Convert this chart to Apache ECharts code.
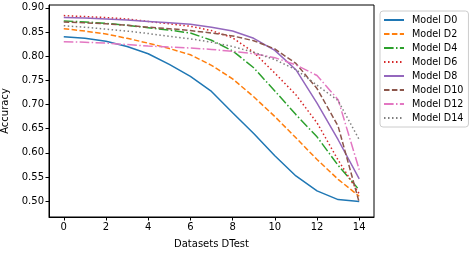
<!DOCTYPE html>
<html><head><meta charset="utf-8">
<script src="https://cdn.jsdelivr.net/npm/echarts@6/dist/echarts.min.js"></script>
<style>html,body{margin:0;padding:0;background:#fff}#c{width:474px;height:254px}</style>
</head><body><div id="c"></div>
<script>
const xValues = [0,1,2,3,4,5,6,7,8,9,10,11,12,13,14];
const xTicks = [0,2,4,6,8,10,12,14];
const yTicks = [0.50,0.55,0.60,0.65,0.70,0.75,0.80,0.85,0.90];
const seriesNames = ["Model D0","Model D2","Model D4","Model D6","Model D8","Model D10","Model D12","Model D14"];
const modelD0  = [0.840,0.837,0.831,0.820,0.805,0.783,0.758,0.727,0.683,0.640,0.594,0.552,0.521,0.503,0.499];
const modelD2  = [0.857,0.852,0.846,0.837,0.827,0.816,0.803,0.781,0.753,0.716,0.675,0.631,0.586,0.545,0.510];
const modelD4  = [0.873,0.871,0.868,0.864,0.859,0.854,0.848,0.833,0.811,0.776,0.728,0.679,0.633,0.574,0.523];
const modelD6  = [0.884,0.882,0.880,0.877,0.872,0.867,0.862,0.853,0.838,0.808,0.765,0.720,0.662,0.585,0.515];
const modelD8  = [0.880,0.879,0.877,0.875,0.872,0.869,0.866,0.860,0.852,0.837,0.812,0.772,0.703,0.627,0.546];
const modelD10 = [0.871,0.869,0.867,0.864,0.860,0.857,0.853,0.848,0.842,0.832,0.815,0.785,0.733,0.655,0.497];
const modelD12 = [0.830,0.829,0.827,0.824,0.821,0.819,0.817,0.814,0.810,0.805,0.797,0.782,0.760,0.710,0.565];
const modelD14 = [0.863,0.860,0.856,0.852,0.847,0.841,0.836,0.829,0.820,0.808,0.793,0.772,0.740,0.708,0.627];
const allSeries = [modelD0,modelD2,modelD4,modelD6,modelD8,modelD10,modelD12,modelD14];
const colors = ['#1f77b4','#ff7f0e','#2ca02c','#d62728','#9467bd','#8c564b','#e377c2','#7f7f7f'];
const dashes = ['solid',[5.5,2.4],[9.6,2.4,1.5,2.4],[1.5,2.5],'solid',[5.5,2.4],[9.6,2.4,1.5,2.4],[1.5,2.5]];
const FONT = 'DejaVu Sans';
const chart = echarts.init(document.getElementById('c'), null, {renderer:'canvas'});
chart.setOption({
  animation:false,
  textStyle:{fontFamily:FONT},
  grid:{left:49,right:100,top:5,bottom:37,containLabel:false,outerBoundsMode:'none',show:true,borderColor:'#000',borderWidth:1,backgroundColor:'transparent'},
  legend:{
    orient:'vertical', left:380, top:11,
    itemWidth:20, itemHeight:10, itemGap:4,
    padding:[4,5,4,3],
    borderColor:'#cccccc', borderWidth:1, borderRadius:3,
    itemStyle:{opacity:0},
    textStyle:{fontFamily:FONT,fontSize:9.6,color:'#000',padding:[0,0,0,3]},
    data:seriesNames
  },
  xAxis:{type:'value',min:-0.7,max:14.7,
    name:'Datasets DTest',nameLocation:'middle',nameGap:22,
    nameTextStyle:{fontFamily:FONT,fontSize:10,color:'#000'},
    splitLine:{show:false},
    axisLine:{show:true,onZero:false,lineStyle:{color:'#000',width:1}},
    axisTick:{show:true,length:3.5,lineStyle:{color:'#000'},customValues:xTicks},
    axisLabel:{fontFamily:FONT,fontSize:10,color:'#000',margin:5,customValues:xTicks,formatter:v=>String(v)}
  },
  yAxis:{type:'value',min:0.467,max:0.906,
    name:'Accuracy',nameLocation:'middle',nameGap:36,nameRotate:90,
    nameTextStyle:{fontFamily:FONT,fontSize:10,color:'#000'},
    splitLine:{show:false},
    axisLine:{show:true,onZero:false,lineStyle:{color:'#000',width:1}},
    axisTick:{show:true,length:3.5,lineStyle:{color:'#000'},customValues:yTicks},
    axisLabel:{fontFamily:FONT,fontSize:10,color:'#000',margin:5,customValues:yTicks,formatter:v=>v.toFixed(2)}
  },
  series: allSeries.map((arr,i)=>({
    name:seriesNames[i], type:'line', symbol:'none',
    data: xValues.map((x,j)=>[x,arr[j]]),
    lineStyle:{color:colors[i],width:1.5,type:dashes[i]},
    itemStyle:{color:colors[i]}
  }))
});
</script></body></html>
